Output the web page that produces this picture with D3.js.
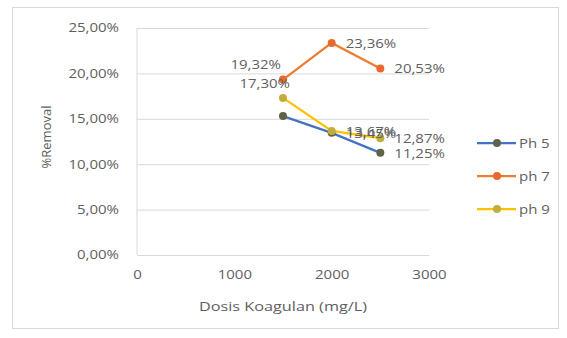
<!DOCTYPE html>
<html>
<head>
<meta charset="utf-8">
<script src="https://cdn.jsdelivr.net/npm/d3@7"></script>
<style>
  html, body { margin: 0; padding: 0; background: #fff; }
  svg text { font-family: "Open Sans", "Liberation Sans", sans-serif; fill: #606060; }
  .wide { transform-box: fill-box; transform: scaleX(1.25); }
  .wide.end { transform-origin: right center; }
  .wide.mid { transform-origin: center center; }
  .wide.start { transform-origin: left center; }
</style>
</head>
<body>
<svg id="chart" width="567" height="338"></svg>
<script>
// Coagulant dose (mg/L) and removal fraction per pH series
const doses = [1500, 2000, 2500];
const seriesNames = ["Ph 5", "ph 7", "ph 9"];
const ph5 = [0.1530, 0.1345, 0.1125];
const ph7 = [0.1932, 0.2336, 0.2053];
const ph9 = [0.1730, 0.1367, 0.1287];
// Which points carry a data label, and on which side
const ph5Labels = [null, "right", "right"];
const ph7Labels = ["left", "right", "right"];
const ph9Labels = ["left", "right", "right"];
const xTicks = [0, 1000, 2000, 3000];
const yTicks = [0, 0.05, 0.10, 0.15, 0.20, 0.25];

const lineColors = ["#4472C4", "#ED7D31", "#FFC000"];
const markerColors = ["#5d6449", "#E9692C", "#c2ae3c"];
// horizontal nudge of left-placed labels per series
const leftNudge = [-2, -2, 7];

const svg = d3.select("#chart");
const fmtPct = v => (v * 100).toFixed(2).replace(".", ",") + "%";

// outer chart frame
svg.append("rect")
  .attr("x", 12.5).attr("y", 7.5).attr("width", 546).attr("height", 321)
  .attr("fill", "#fff").attr("stroke", "#d9d9d9");

const x = d3.scaleLinear().domain([0, 3000]).range([137, 429]);
const y = d3.scaleLinear().domain([0, 0.25]).range([255, 28]);

// horizontal gridlines
svg.append("g")
  .attr("transform", `translate(${x(0)},0)`)
  .call(d3.axisLeft(y).tickValues(yTicks).tickSize(-(x(3000) - x(0))).tickFormat(""))
  .call(g => g.select(".domain").remove())
  .call(g => g.selectAll("line").attr("stroke", "#d9d9d9"));

// vertical value-axis line
svg.append("line")
  .attr("x1", x(0)).attr("x2", x(0)).attr("y1", y(0.25)).attr("y2", y(0))
  .attr("stroke", "#d9d9d9");

// y tick labels
svg.append("g")
  .attr("transform", `translate(119,0)`)
  .call(d3.axisLeft(y).tickValues(yTicks).tickSize(0).tickPadding(0).tickFormat(fmtPct))
  .call(g => g.select(".domain").remove())
  .call(g => g.selectAll("text").attr("font-size", 12).attr("class", "wide end"));

// x tick labels
svg.append("g")
  .attr("transform", `translate(0,270)`)
  .call(d3.axisBottom(x).tickValues(xTicks).tickSize(0).tickPadding(0).tickFormat(d3.format("d")))
  .call(g => g.select(".domain").remove())
  .call(g => g.selectAll("text").attr("font-size", 12).attr("class", "wide mid"));

svg.selectAll(".tick text").attr("font-family", null).attr("fill", null);

// axis titles
svg.append("text")
  .attr("class", "wide mid")
  .attr("x", 283).attr("y", 311).attr("text-anchor", "middle")
  .attr("font-size", 13).text("Dosis Koagulan (mg/L)");

svg.append("text")
  .attr("transform", "translate(51,137) rotate(-90)")
  .attr("text-anchor", "middle")
  .attr("font-size", 13).text("%Removal");

const allSeries = [ph5, ph7, ph9];
const allLabels = [ph5Labels, ph7Labels, ph9Labels];
const line = d3.line().x(d => x(d[0])).y(d => y(d[1]));

allSeries.forEach((vals, i) => {
  const pts = doses.map((d, j) => [d, vals[j]]);
  svg.append("path")
    .attr("d", line(pts))
    .attr("fill", "none")
    .attr("stroke", lineColors[i])
    .attr("stroke-width", 2.25);
  svg.selectAll(null).data(pts).enter().append("circle")
    .attr("cx", d => x(d[0])).attr("cy", d => y(d[1]))
    .attr("r", 4)
    .attr("fill", markerColors[i]);
});

// data labels
allSeries.forEach((vals, i) => {
  doses.forEach((d, j) => {
    const side = allLabels[i][j];
    if (!side) return;
    const t = svg.append("text")
      .attr("font-size", 12)
      .attr("dominant-baseline", "central")
      .text(fmtPct(vals[j]));
    if (side === "left") {
      t.attr("class", "wide end").attr("text-anchor", "end")
        .attr("x", x(d) + leftNudge[i]).attr("y", y(vals[j]) - 15);
    } else {
      t.attr("class", "wide start").attr("text-anchor", "start")
        .attr("x", x(d) + 14).attr("y", y(vals[j]));
    }
  });
});

// legend
const legend = svg.append("g");
seriesNames.forEach((name, i) => {
  const ly = 143 + i * 33;
  legend.append("line")
    .attr("x1", 477).attr("x2", 516).attr("y1", ly).attr("y2", ly)
    .attr("stroke", lineColors[i]).attr("stroke-width", 2.25);
  legend.append("circle")
    .attr("cx", 497).attr("cy", ly).attr("r", 4).attr("fill", markerColors[i]);
  legend.append("text")
    .attr("class", "wide start")
    .attr("x", 519).attr("y", ly).attr("dominant-baseline", "central")
    .attr("font-size", 12).text(name);
});
</script>
</body>
</html>
